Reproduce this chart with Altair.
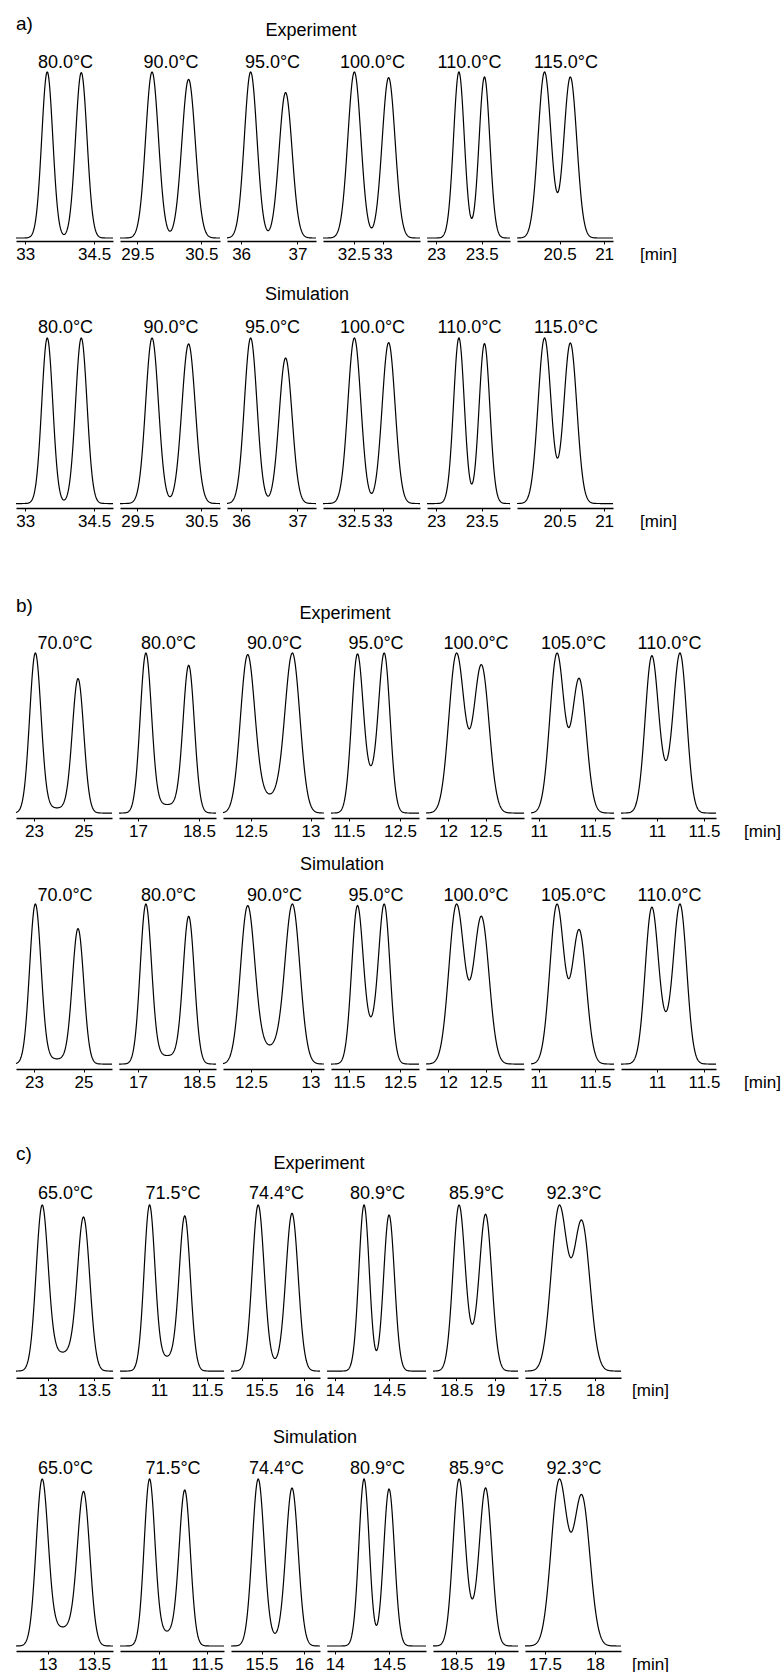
import math
import numpy as np
import pandas as pd
import altair as alt

FONT = "Liberation Sans"
SQ2 = math.sqrt(2.0)

# ---------------- section a ----------------
a_temps = ["80.0°C", "90.0°C", "95.0°C", "100.0°C", "110.0°C", "115.0°C"]
a_xmin = [32.80, 29.23, 35.75, 31.97, 22.90, 20.02]
a_xmax = [34.91, 30.79, 37.33, 33.64, 23.81, 21.10]
a_ticks = [[33, 34.5], [29.5, 30.5], [36, 37], [32.5, 33], [23, 23.5], [20.5, 21]]
a_t1 = [33.48, 29.73, 36.17, 32.51, 23.25, 20.33]
a_t2 = [34.22, 30.30, 36.79, 33.10, 23.53, 20.62]
a_s1 = [0.120, 0.100, 0.112, 0.112, 0.059, 0.073]
a_s2 = [0.125, 0.105, 0.115, 0.112, 0.059, 0.073]
a_plat = [0.0, 0.0, 0.0, 0.0, 0.0, 0.0]
a_exp_h1 = [1.0, 1.0, 1.0, 1.0, 1.0, 1.0]
a_exp_h2 = [0.996, 0.956, 0.876, 0.966, 0.970, 0.970]
a_sim_h1 = [1.0, 1.0, 1.0, 1.0, 1.0, 1.0]
a_sim_h2 = [1.0, 0.964, 0.879, 0.972, 0.966, 0.970]

# ---------------- section b ----------------
b_temps = ["70.0°C", "80.0°C", "90.0°C", "95.0°C", "100.0°C", "105.0°C", "110.0°C"]
b_xmin = [22.27, 16.53, 12.265, 11.147, 11.707, 10.929, 10.617]
b_xmax = [26.15, 18.92, 13.113, 12.873, 13.013, 11.670, 11.628]
b_ticks = [[23, 25], [17, 18.5], [12.5, 13], [11.5, 12.5], [12, 12.5], [11, 11.5], [11, 11.5]]
b_t1 = [23.05, 17.19, 12.47, 11.657, 12.11, 11.16, 10.94]
b_t2 = [24.78, 18.25, 12.85, 12.20, 12.45, 11.36, 11.25]
b_s1 = [0.23, 0.139, 0.060, 0.111, 0.100, 0.063, 0.069]
b_s2 = [0.23, 0.139, 0.062, 0.111, 0.100, 0.063, 0.069]
b_plat = [0.031, 0.052, 0.105, 0.21, 0.11, 0.03, 0.19]
b_exp_h1 = [1.0, 1.0, 0.99, 0.994, 1.0, 1.0, 0.983]
b_exp_h2 = [0.84, 0.923, 1.0, 1.0, 0.927, 0.84, 1.0]
b_sim_h1 = [1.0, 1.0, 0.99, 0.99, 1.0, 1.0, 0.98]
b_sim_h2 = [0.846, 0.923, 1.0, 1.0, 0.923, 0.839, 1.0]

# ---------------- section c ----------------
c_temps = ["65.0°C", "71.5°C", "74.4°C", "80.9°C", "85.9°C", "92.3°C"]
c_xmin = [12.661, 10.594, 15.141, 13.929, 18.20, 17.30]
c_xmax = [13.704, 11.677, 16.188, 14.840, 19.291, 18.26]
c_ticks = [[13, 13.5], [11, 11.5], [15.5, 16], [14, 14.5], [18.5, 19], [17.5, 18]]
c_t1 = [12.94, 10.90, 15.46, 14.27, 18.53, 17.64]
c_t2 = [13.39, 11.27, 15.86, 14.50, 18.88, 17.87]
c_s1 = [0.064, 0.056, 0.070, 0.048, 0.076, 0.079]
c_s2 = [0.066, 0.058, 0.072, 0.050, 0.078, 0.080]
c_plat = [0.11, 0.08, 0.04, 0.0, 0.15, 0.05]
c_exp_h1 = [1.0, 1.0, 1.0, 1.0, 1.0, 1.0]
c_exp_h2 = [0.928, 0.934, 0.95, 0.94, 0.944, 0.908]
c_sim_h1 = [1.0, 1.0, 1.0, 1.0, 1.0, 1.0]
c_sim_h2 = [0.926, 0.934, 0.946, 0.94, 0.946, 0.906]

# ---------------- layout (pixels) ----------------
a_widths = [97, 100, 89, 97, 83, 96]
b_widths = [96, 97, 101, 88, 98, 83, 95]
c_widths = [97, 104, 89, 99, 85, 96]
SPACING = 7
row_tops = [71.5, 337, 651.7, 903, 1204, 1478]
row_bottoms = [240.5, 507, 816.7, 1068, 1376.7, 1650]
row_ymin = [-0.018, -0.027, -0.031, -0.031, -0.040, -0.030]
row_title_dy = [-9.5, -10, -8.7, -8, -11, -10]
TITLE_FS = 18
TICK_FS = 17
E_BOT = 21.3


def e_top(idx):
    return -row_title_dy[idx] + TITLE_FS / 2


def chromatogram(xmin, xmax, t1, t2, s1, s2, h1, h2, plat, n=260):
    t = np.linspace(xmin, xmax, n)
    g1 = np.exp(-0.5 * ((t - t1) / s1) ** 2)
    g2 = np.exp(-0.5 * ((t - t2) / s2) ** 2)
    e1 = np.array([math.erf(v) for v in (t - t1) / (s1 * SQ2)])
    e2 = np.array([math.erf(v) for v in (t - t2) / (s2 * SQ2)])
    step = 0.5 * (e1 - e2)
    y = (h1 - plat / 2) * g1 + (h2 - plat / 2) * g2 + plat * step
    y = y / y.max()
    return pd.DataFrame({"t": t, "y": y})


def panel(df, xmin, xmax, ticks, temp, width, height, ymin, title_dy, unit_x=None):
    axis_kw = dict(values=ticks, format=".4~g", tickSize=3, tickWidth=1, tickColor="black",
                   labelPadding=2, labelFontSize=TICK_FS, labelFont=FONT, labelColor="black",
                   labelFlush=False, labelOverlap=False, domainColor="black",
                   domainWidth=1.5, grid=False)
    xscale = alt.Scale(domain=[xmin, xmax], nice=False, zero=False)
    if unit_x is not None:
        axis_kw.update(title="[min]", titleX=unit_x, titleY=13, titleFontSize=TICK_FS,
                       titleFont=FONT, titleFontWeight="normal", titleAlign="center",
                       titleBaseline="middle", titleColor="black")
        xenc = alt.X("t:Q", scale=xscale, axis=alt.Axis(**axis_kw))
    else:
        xenc = alt.X("t:Q", scale=xscale, axis=alt.Axis(**axis_kw), title=None)
    line = alt.Chart(df).mark_line(color="black", strokeWidth=1.2).encode(
        x=xenc,
        y=alt.Y("y:Q", scale=alt.Scale(domain=[ymin, 1.0], nice=False, zero=False), axis=None),
    )
    label = alt.Chart(pd.DataFrame({"s": [temp]})).mark_text(
        font=FONT, fontSize=TITLE_FS, align="center", baseline="middle", color="black"
    ).encode(text="s:N", x=alt.value(width / 2 + 1), y=alt.value(title_dy))
    return alt.layer(line, label).properties(width=width, height=height)


def make_row(temps, xmin, xmax, ticks, t1, t2, s1, s2, plat, h1, h2, widths, idx, unit_abs):
    height = row_bottoms[idx] - row_tops[idx]
    charts = []
    left = 13
    for i in range(len(temps)):
        df = chromatogram(xmin[i], xmax[i], t1[i], t2[i], s1[i], s2[i], h1[i], h2[i], plat[i])
        unit_x = (unit_abs - left) if i == len(temps) - 1 else None
        charts.append(panel(df, xmin[i], xmax[i], ticks[i], temps[i], widths[i], height,
                            row_ymin[idx], row_title_dy[idx], unit_x))
        left += widths[i] + SPACING
    return alt.hconcat(*charts, spacing=SPACING, bounds="flush")


def header(idx, items):
    top = 0 if idx == 0 else row_bottoms[idx - 1] + E_BOT
    h = row_tops[idx] - e_top(idx) - top
    layers = []
    for txt, xa, ya, fs in items:
        layers.append(
            alt.Chart(pd.DataFrame({"s": [txt]})).mark_text(
                font=FONT, fontSize=fs, align="left" if txt.endswith(")") else "center",
                baseline="middle", color="black",
            ).encode(text="s:N", x=alt.value(xa - 13), y=alt.value(ya - top))
        )
    return alt.layer(*layers).properties(width=765, height=h)


rows = [
    header(0, [("a)", 13, 24, 19), ("Experiment", 308, 31, 18)]),
    make_row(a_temps, a_xmin, a_xmax, a_ticks, a_t1, a_t2, a_s1, a_s2, a_plat,
             a_exp_h1, a_exp_h2, a_widths, 0, 655),
    header(1, [("Simulation", 304, 295, 18)]),
    make_row(a_temps, a_xmin, a_xmax, a_ticks, a_t1, a_t2, a_s1, a_s2, a_plat,
             a_sim_h1, a_sim_h2, a_widths, 1, 655),
    header(2, [("b)", 13, 605, 19), ("Experiment", 342, 613, 18)]),
    make_row(b_temps, b_xmin, b_xmax, b_ticks, b_t1, b_t2, b_s1, b_s2, b_plat,
             b_exp_h1, b_exp_h2, b_widths, 2, 759),
    header(3, [("Simulation", 339, 864, 18)]),
    make_row(b_temps, b_xmin, b_xmax, b_ticks, b_t1, b_t2, b_s1, b_s2, b_plat,
             b_sim_h1, b_sim_h2, b_widths, 3, 759),
    header(4, [("c)", 13, 1153, 19), ("Experiment", 316, 1163, 18)]),
    make_row(c_temps, c_xmin, c_xmax, c_ticks, c_t1, c_t2, c_s1, c_s2, c_plat,
             c_exp_h1, c_exp_h2, c_widths, 4, 647),
    header(5, [("Simulation", 312, 1437, 18)]),
    make_row(c_temps, c_xmin, c_xmax, c_ticks, c_t1, c_t2, c_s1, c_s2, c_plat,
             c_sim_h1, c_sim_h2, c_widths, 5, 647),
]

chart = alt.vconcat(*rows, spacing=0).properties(
    padding={"left": 13, "top": 0, "right": 0, "bottom": 0},
    background="white",
).configure_view(strokeWidth=0)

chart.save("out.html", embed_options={"renderer": "svg", "actions": False})
